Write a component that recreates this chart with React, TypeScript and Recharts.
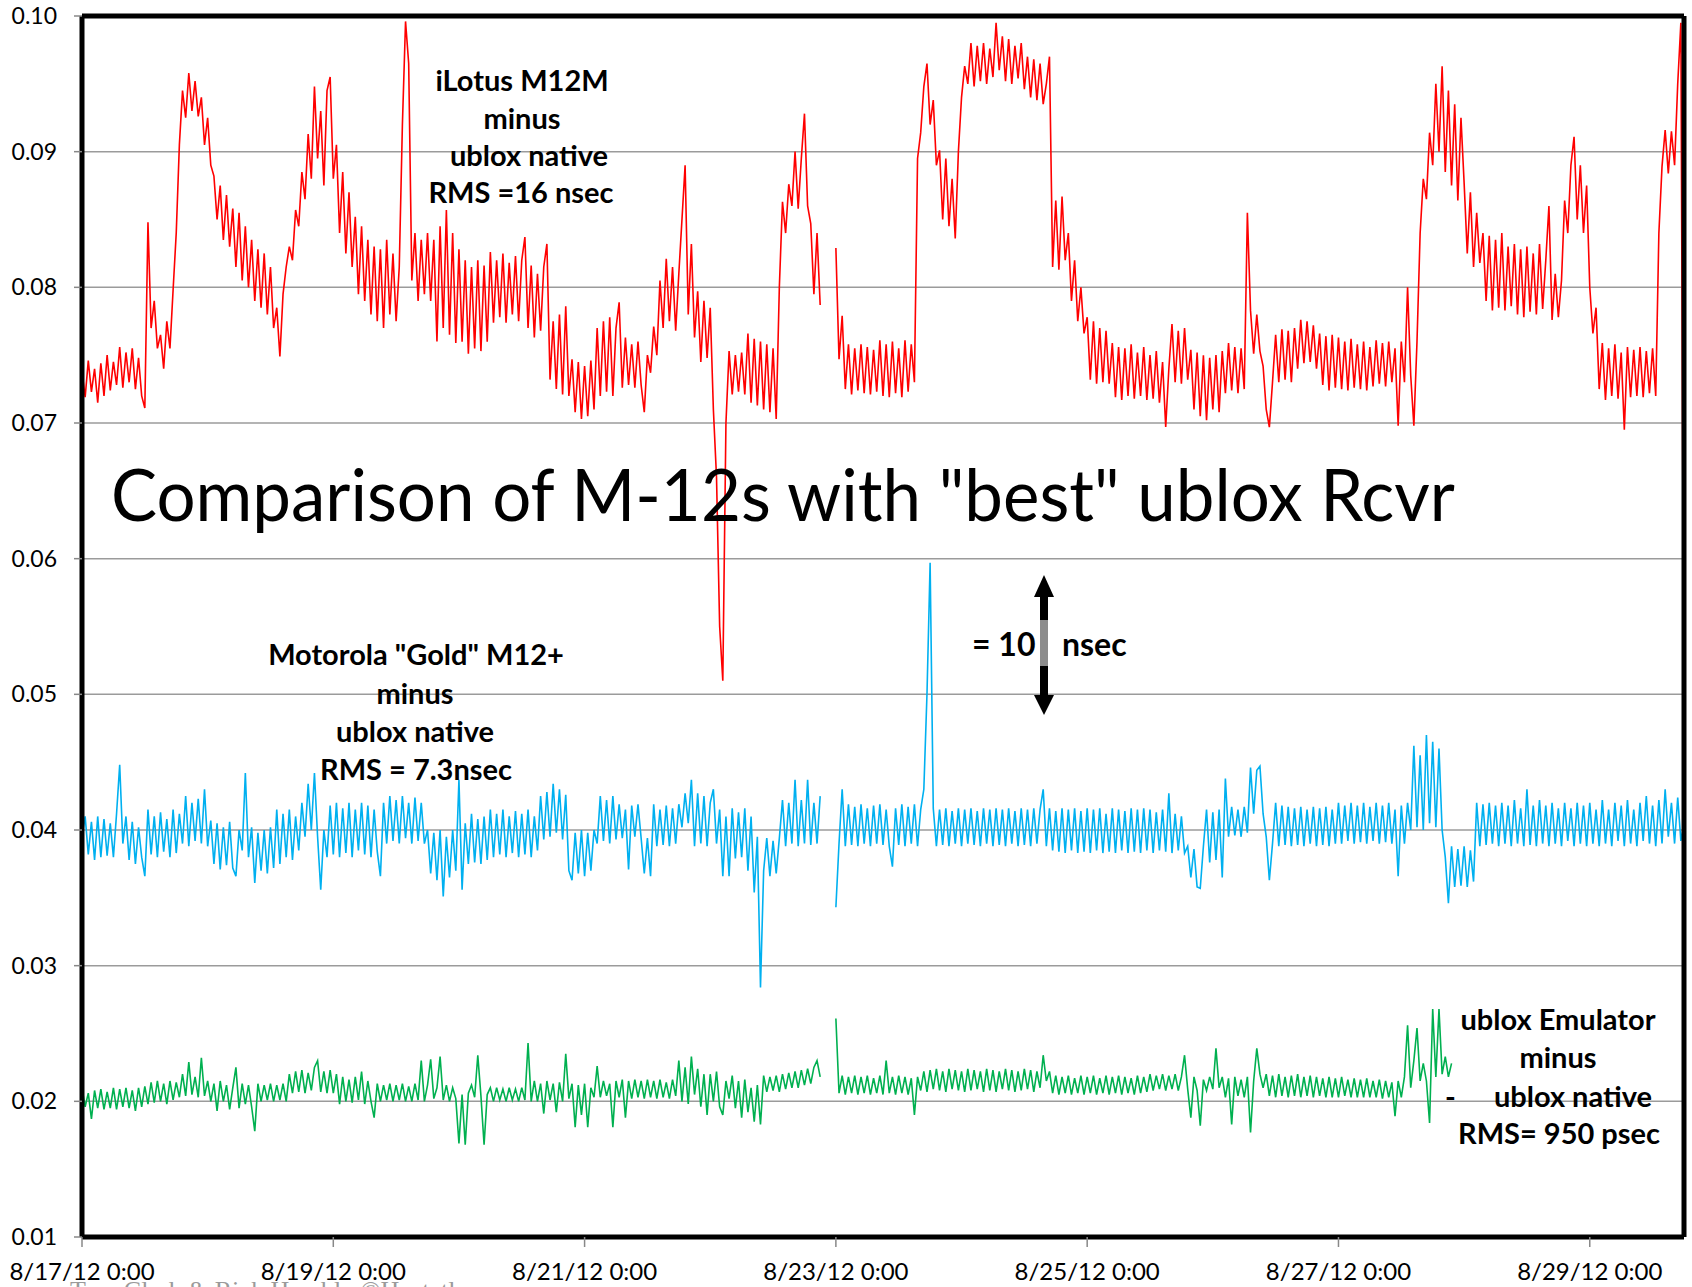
import { LineChart, Line, XAxis, YAxis, CartesianGrid, ReferenceLine } from "recharts";

// samples every 0.025 day starting 8/17/12 0:00, values in nsec (axis is in usec)
const DAY_STEP = 0.025;
const X_MAX_DAY = 12.75;
const X_TICK_DAYS = [0, 2, 4, 6, 8, 10, 12];
const X_TICK_LABELS = [
  "8/17/12 0:00",
  "8/19/12 0:00",
  "8/21/12 0:00",
  "8/23/12 0:00",
  "8/25/12 0:00",
  "8/27/12 0:00",
  "8/29/12 0:00",
];
const Y_TICKS = [0.01, 0.02, 0.03, 0.04, 0.05, 0.06, 0.07, 0.08, 0.09, 0.1];

// iLotus M12M minus ublox native
const RED_NS = [
  73.8, 71.9, 74.6, 72.3, 74.0, 71.5, 74.4, 72.0, 75.0, 72.4,
  74.5, 72.8, 75.6, 72.6, 75.2, 73.0, 75.5, 72.5, 74.8, 72.0,
  71.1, 84.8, 77.0, 79.0, 75.5, 76.5, 74.0, 77.5, 75.5, 79.8,
  84.0, 90.5, 94.5, 92.5, 95.8, 93.0, 95.2, 92.6, 94.0, 90.5,
  92.5, 89.0, 88.2, 85.0, 87.5, 83.5, 86.8, 83.0, 85.8, 81.5,
  85.5, 80.5, 84.5, 80.0, 83.5, 79.0, 82.8, 78.5, 82.5, 78.0,
  81.5, 77.0, 78.5, 74.9, 79.5, 81.5, 83.0, 82.0, 85.7, 84.5,
  88.5, 86.5, 91.3, 88.0, 94.8, 89.5, 93.0, 87.5, 94.5, 95.5,
  88.0, 90.5, 84.0, 88.5, 82.5, 87.0, 81.5, 85.2, 79.5, 84.5,
  79.0, 83.5, 78.0, 83.0, 77.5, 82.8, 77.0, 83.5, 78.0, 82.5,
  77.5, 81.5, 92.0, 99.6, 96.5, 80.5, 84.0, 79.0, 83.5, 79.5,
  84.0, 79.0, 83.5, 76.0, 84.5, 77.0, 85.7, 76.5, 84.0, 75.9,
  82.8, 76.0, 82.0, 75.1, 81.5, 75.5, 82.0, 75.3, 81.6, 76.0,
  82.6, 77.4, 82.0, 77.8, 82.5, 77.4, 81.8, 78.0, 82.3, 77.5,
  82.0, 83.7, 77.0, 81.6, 76.3, 81.0, 76.8, 81.5, 83.2, 73.2,
  77.5, 72.5, 78.0, 72.1, 78.6, 72.0, 74.7, 70.8, 74.5, 70.3,
  74.2, 70.5, 74.6, 71.0, 77.0, 72.0, 77.5, 72.3, 77.8, 72.0,
  77.0, 78.9, 72.6, 76.3, 72.8, 75.8, 72.6, 76.0, 72.8, 70.8,
  75.0, 73.7, 77.1, 75.0, 80.5, 77.0, 82.1, 77.5, 81.5, 76.8,
  81.0, 85.0, 89.0, 78.0, 83.2, 76.3, 79.7, 74.5, 79.0, 74.8,
  78.5, 71.0, 66.0, 55.0, 51.0, 70.0, 75.3, 72.1, 75.0, 72.3,
  75.2, 72.1, 76.6, 71.5, 76.2, 71.3, 76.0, 71.0, 75.8, 70.8,
  75.5, 70.3, 80.0, 86.3, 84.0, 87.6, 86.0, 90.0, 85.8, 89.5,
  92.8, 86.0, 84.7, 79.5, 84.0, 78.7, null, null, null, null,
  82.9, 74.7, 77.9, 72.5, 75.8, 72.1, 75.5, 72.4, 75.8, 72.2,
  75.6, 72.1, 75.4, 72.3, 76.1, 72.0, 75.8, 71.9, 76.0, 72.2,
  75.5, 71.9, 76.1, 72.3, 75.8, 73.0, 89.5, 91.4, 94.8, 96.5,
  92.0, 93.8, 89.0, 90.1, 85.0, 89.5, 84.5, 88.0, 83.6, 90.0,
  94.0, 96.3, 95.0, 98.0, 94.8, 97.8, 95.2, 98.0, 95.0, 97.6,
  95.5, 99.5, 96.0, 98.5, 95.2, 98.3, 95.0, 97.8, 95.4, 98.0,
  94.6, 97.0, 94.0, 96.8, 93.8, 96.5, 93.5, 95.0, 97.0, 81.5,
  86.4, 81.3, 86.7, 82.0, 84.0, 79.0, 82.0, 77.5, 80.0, 76.6,
  77.8, 73.2, 77.5, 72.9, 77.0, 73.0, 76.8, 72.9, 75.9, 71.9,
  75.6, 71.7, 75.5, 72.0, 75.8, 71.8, 75.2, 72.0, 75.6, 71.7,
  75.0, 71.8, 75.3, 71.5, 74.5, 69.7, 74.0, 77.3, 73.0, 76.8,
  72.9, 77.0, 73.2, 75.4, 71.0, 75.2, 70.5, 75.0, 70.2, 74.8,
  71.0, 75.0, 70.8, 75.3, 72.2, 75.9, 72.4, 75.6, 72.2, 75.5,
  72.5, 85.5, 78.3, 75.1, 78.0, 75.3, 74.2, 71.0, 69.7, 73.0,
  76.5, 73.0, 76.9, 73.2, 76.8, 73.0, 77.0, 74.0, 77.6, 74.4,
  77.5, 74.5, 77.2, 74.0, 76.6, 72.8, 76.4, 72.4, 76.5, 72.6,
  76.3, 72.5, 76.0, 72.4, 76.2, 72.6, 75.8, 72.5, 76.0, 72.4,
  75.6, 72.7, 76.1, 72.9, 75.9, 72.7, 76.0, 73.0, 75.5, 69.8,
  76.0, 73.0, 80.0, 73.5, 69.8, 76.0, 84.0, 88.0, 86.5, 91.4,
  89.0, 95.0, 90.0, 96.3, 88.5, 94.5, 87.5, 93.5, 86.4, 92.5,
  87.7, 82.5, 87.0, 81.5, 85.5, 81.8, 84.0, 79.0, 83.8, 78.3,
  83.5, 78.5, 84.0, 78.3, 83.0, 78.6, 83.2, 78.0, 82.8, 77.8,
  83.0, 78.2, 82.5, 78.0, 83.2, 78.4, 82.0, 86.0, 77.6, 81.0,
  77.8, 80.5, 86.4, 84.0, 89.0, 91.1, 85.0, 89.0, 84.0, 87.5,
  80.0, 76.6, 78.5, 72.5, 75.9, 71.7, 75.5, 72.0, 75.8, 71.8,
  75.2, 69.5, 75.6, 71.9, 75.4, 72.0, 75.6, 71.9, 75.3, 72.2,
  75.5, 72.0, 84.0, 88.9, 91.6, 88.4, 91.5, 89.0, 95.0, 99.5,
  44.5,
];

// Motorola "Gold" M12+ minus ublox native
const BLUE_NS = [
  39.5, 41.0, 38.2, 40.6, 37.8, 41.0, 38.0, 40.8, 38.1, 40.5,
  38.0, 41.2, 44.8, 39.0, 41.0, 37.8, 40.6, 37.5, 40.2, 38.0,
  36.6, 41.5, 38.2, 41.0, 38.0, 41.3, 38.4, 40.8, 38.0, 41.5,
  38.3, 41.2, 39.0, 42.5, 38.8, 42.0, 39.2, 42.3, 39.0, 43.0,
  38.8, 40.7, 37.5, 40.5, 37.1, 40.2, 37.4, 40.6, 37.2, 36.6,
  40.0, 38.5, 44.2, 38.0, 40.2, 36.1, 39.8, 37.0, 40.0, 36.8,
  40.2, 37.2, 41.5, 37.5, 41.2, 38.0, 41.5, 37.8, 41.0, 38.5,
  42.0, 39.5, 43.4, 40.0, 44.2, 39.5, 35.6, 40.0, 38.0, 41.8,
  38.2, 42.0, 38.0, 41.6, 38.3, 42.0, 38.0, 41.5, 38.5, 42.0,
  38.2, 41.8, 38.0, 41.5, 38.4, 36.6, 42.0, 39.0, 42.5, 39.2,
  42.2, 39.0, 42.5, 39.4, 42.0, 39.0, 42.4, 39.2, 42.0, 39.0,
  40.0, 36.8, 39.8, 36.3, 40.0, 35.1, 39.5, 36.5, 40.0, 37.0,
  43.7, 35.6, 40.5, 37.5, 41.2, 37.6, 40.8, 37.5, 41.0, 37.8,
  41.5, 38.0, 41.2, 38.2, 41.5, 38.0, 41.0, 38.3, 41.4, 38.0,
  41.2, 38.2, 41.5, 38.0, 41.0, 38.5, 42.5, 39.3, 42.8, 39.5,
  43.4, 39.8, 43.0, 39.3, 42.6, 37.0, 36.3, 39.8, 36.8, 40.0,
  36.6, 39.8, 37.0, 40.0, 39.0, 42.5, 39.2, 42.2, 39.0, 42.5,
  39.3, 41.9, 39.4, 41.5, 37.1, 41.8, 39.5, 41.9, 39.4, 36.8,
  39.4, 36.6, 41.9, 38.8, 41.5, 38.9, 41.8, 38.8, 41.6, 39.0,
  41.9, 40.2, 42.7, 40.5, 43.7, 38.8, 42.7, 39.0, 42.5, 38.8,
  42.0, 43.0, 39.0, 41.5, 36.6, 41.0, 36.6, 41.6, 37.9, 41.3,
  38.0, 41.6, 37.0, 41.0, 35.4, 39.5, 28.4, 37.0, 39.4, 36.6,
  39.2, 36.8, 39.4, 42.2, 38.8, 42.0, 39.0, 43.7, 38.8, 42.2,
  39.0, 43.7, 38.9, 42.0, 39.0, 42.5, null, null, null, null,
  34.3, 39.0, 43.0, 38.8, 41.9, 38.9, 41.7, 38.8, 41.9, 39.0,
  41.6, 38.8, 41.8, 39.0, 41.9, 38.9, 41.5, 38.8, 37.3, 41.6,
  38.9, 41.9, 38.8, 41.7, 39.0, 41.9, 38.8, 41.5, 43.0, 50.0,
  59.7, 41.6, 38.8, 41.5, 38.9, 41.6, 38.8, 41.4, 39.0, 41.6,
  38.8, 41.5, 39.0, 41.6, 38.9, 41.4, 38.8, 41.6, 39.0, 41.5,
  38.8, 41.6, 38.9, 41.5, 38.8, 41.6, 39.0, 41.4, 38.8, 41.6,
  38.9, 41.5, 38.8, 41.6, 39.0, 41.5, 43.0, 38.8, 41.6, 38.5,
  41.4, 38.4, 41.6, 38.3, 41.5, 38.5, 41.6, 38.3, 41.4, 38.4,
  41.6, 38.3, 41.5, 38.5, 41.6, 38.3, 41.2, 38.4, 41.6, 38.3,
  41.5, 38.5, 41.4, 38.3, 41.6, 38.4, 41.5, 38.3, 41.6, 38.5,
  41.5, 38.3, 41.3, 38.5, 41.5, 38.4, 42.7, 38.3, 41.2, 38.5,
  41.0, 38.3, 38.8, 36.5, 38.6, 35.8, 35.7, 38.8, 41.5, 37.6,
  41.3, 37.8, 41.5, 36.5, 43.8, 39.5, 41.7, 39.6, 41.5, 39.5,
  41.7, 39.8, 44.6, 41.2, 44.4, 44.7, 41.2, 39.5, 36.3, 39.0,
  42.0, 38.8, 41.8, 38.9, 41.7, 38.8, 41.6, 38.9, 41.7, 38.8,
  41.5, 39.0, 41.7, 38.8, 41.6, 38.9, 41.7, 38.8, 41.5, 39.0,
  42.0, 39.0, 41.8, 39.2, 42.0, 39.0, 41.8, 39.1, 42.0, 39.0,
  41.7, 39.2, 42.0, 39.0, 41.8, 39.1, 42.0, 39.0, 41.5, 36.6,
  41.8, 39.0, 42.0, 40.0, 46.2, 40.2, 45.5, 40.0, 47.0, 40.5,
  46.5, 40.2, 46.0, 40.0, 38.0, 34.6, 38.8, 35.8, 38.6, 35.9,
  38.8, 35.8, 38.5, 36.2, 42.0, 38.8, 41.9, 38.9, 42.0, 39.0,
  41.8, 38.8, 42.0, 39.0, 41.8, 38.8, 42.2, 39.0, 41.6, 38.8,
  43.0, 38.9, 41.8, 38.8, 42.2, 39.0, 41.8, 38.8, 42.0, 39.0,
  41.6, 38.8, 42.0, 39.2, 41.6, 38.8, 42.0, 39.0, 41.8, 38.8,
  42.0, 39.0, 41.5, 38.8, 42.2, 39.0, 41.5, 38.8, 42.0, 39.2,
  41.8, 38.8, 42.2, 39.0, 41.5, 38.8, 42.0, 39.2, 42.5, 39.0,
  41.8, 38.8, 42.2, 39.0, 43.0, 39.5, 42.0, 39.0, 42.4, 39.2,
  40.5,
];

// ublox Emulator minus ublox native (ends 8/27 ~21:30)
const GREEN_NS = [
  21.0, 19.6, 20.6, 18.7, 20.8, 19.5, 20.9, 19.4, 20.7, 19.5,
  21.0, 19.4, 20.9, 19.6, 21.0, 19.5, 20.8, 19.3, 21.0, 19.6,
  21.1, 19.8, 21.4, 19.9, 21.5, 20.0, 21.3, 19.8, 21.5, 20.1,
  21.4, 20.3, 22.0, 20.4, 22.9, 20.5, 21.8, 20.3, 23.2, 20.4,
  21.5, 20.0, 21.3, 19.3, 21.5, 20.0, 21.2, 19.4, 21.0, 22.5,
  19.5, 21.3, 19.8, 21.2, 19.6, 17.8, 21.3, 20.0, 21.2, 20.1,
  21.3, 20.0, 21.2, 20.1, 21.3, 20.0, 22.0, 20.6, 22.2, 20.7,
  22.3, 20.6, 22.1, 20.8, 22.5, 23.0, 20.7, 22.2, 20.6, 22.3,
  20.6, 22.0, 19.8, 21.8, 20.0, 21.6, 19.9, 21.8, 20.1, 22.2,
  19.8, 21.5, 20.0, 18.8, 21.3, 20.0, 21.2, 20.1, 21.3, 20.0,
  21.2, 20.1, 21.3, 20.0, 21.1, 20.0, 21.3, 20.1, 23.0, 20.0,
  21.2, 23.1, 20.2, 21.0, 23.3, 20.1, 21.2, 20.0, 21.0, 20.2,
  16.9, 20.5, 16.8, 20.6, 21.2, 20.3, 23.4, 20.4, 16.8, 20.5,
  21.0, 20.0, 21.0, 20.1, 20.9, 20.0, 21.0, 20.1, 20.9, 20.0,
  21.0, 20.1, 24.3, 20.0, 21.5, 20.0, 21.3, 19.1, 21.5, 20.1,
  21.3, 19.2, 21.4, 20.0, 23.5, 20.2, 21.3, 18.1, 21.2, 19.0,
  21.3, 18.1, 21.0, 20.3, 22.6, 20.3, 21.5, 20.4, 21.3, 18.1,
  21.5, 20.3, 21.6, 18.8, 21.5, 20.2, 21.6, 20.3, 21.5, 20.2,
  21.6, 20.3, 21.5, 20.2, 21.6, 20.3, 21.4, 20.2, 21.6, 20.4,
  23.0, 20.0, 22.5, 19.8, 23.3, 20.5, 22.4, 19.6, 22.0, 19.0,
  22.0, 20.0, 22.2, 19.6, 19.0, 21.5, 20.2, 21.9, 19.5, 21.5,
  18.8, 21.6, 19.2, 21.0, 18.5, 21.2, 18.3, 21.9, 20.7, 21.8,
  20.8, 21.9, 20.7, 22.0, 20.9, 22.1, 21.0, 22.2, 21.0, 22.3,
  21.2, 22.4, 21.3, 22.5, 23.0, 21.8, null, null, null, null,
  26.1, 20.6, 21.9, 20.5, 21.8, 20.6, 21.9, 20.5, 21.8, 20.6,
  21.9, 20.5, 21.7, 20.6, 21.9, 20.5, 23.0, 20.6, 21.8, 20.5,
  21.9, 20.6, 21.8, 20.5, 21.7, 19.0, 21.8, 20.8, 22.2, 20.7,
  22.3, 20.9, 22.4, 20.8, 22.2, 20.7, 22.4, 20.9, 22.3, 20.8,
  22.2, 20.7, 22.4, 20.8, 22.3, 20.9, 22.2, 20.7, 22.4, 20.8,
  22.3, 20.7, 22.2, 20.9, 22.4, 20.8, 22.3, 20.7, 22.2, 20.8,
  22.4, 20.9, 22.3, 20.7, 22.2, 21.0, 23.4, 21.5, 22.2, 20.6,
  21.9, 20.5, 21.8, 20.6, 21.9, 20.5, 21.7, 20.6, 21.9, 20.5,
  21.8, 20.6, 21.9, 20.5, 21.7, 20.6, 21.9, 20.5, 21.8, 20.6,
  21.9, 20.5, 21.8, 20.6, 21.7, 20.5, 21.9, 20.6, 21.8, 20.7,
  22.0, 20.8, 21.9, 20.9, 22.0, 20.8, 21.9, 20.9, 22.0, 20.8,
  21.8, 23.4, 20.9, 18.8, 21.8, 20.8, 18.2, 21.6, 20.8, 21.8,
  20.9, 23.9, 21.0, 21.8, 20.3, 21.7, 18.3, 21.8, 20.4, 21.6,
  20.3, 21.8, 17.7, 21.5, 23.9, 22.0, 21.0, 22.0, 20.4, 21.9,
  20.3, 22.0, 20.4, 21.8, 20.3, 21.9, 20.4, 22.0, 20.3, 21.8,
  20.4, 21.9, 20.3, 21.8, 20.4, 21.7, 20.3, 21.8, 20.3, 21.7,
  20.3, 21.8, 20.4, 21.6, 20.3, 21.7, 20.3, 21.6, 20.3, 21.7,
  20.3, 21.5, 20.3, 21.6, 20.2, 21.5, 20.3, 21.4, 18.9, 21.5,
  20.3, 21.8, 25.6, 21.0, 23.0, 25.4, 21.5, 22.8, 21.5, 18.4,
  26.8, 21.8, 26.8, 22.0, 23.3, 21.8, 22.8,
];

const FONT = "Lato, 'Open Sans', sans-serif";
const W = 1692;
const H = 1287;

const toUs = (v: number | null | undefined) => (v == null ? null : v / 1000);

const rows = RED_NS.map((r, i) => ({
  day: Math.round(i * DAY_STEP * 1000) / 1000,
  red: toUs(r),
  blue: toUs(BLUE_NS[i]),
  green: toUs(GREEN_NS[i]),
}));

const labelStyle = { fontFamily: FONT, fontWeight: 700, fontSize: 29, fill: "#000" };

function Annotations() {
  return (
    <svg width={W} height={H} style={{ position: "absolute", left: 0, top: 0, pointerEvents: "none" }}>
      <g style={labelStyle} textAnchor="middle">
        <text x={522} y={91}>iLotus M12M</text>
        <text x={522} y={129}>minus</text>
        <text x={529} y={166}>ublox native</text>
        <text x={521} y={203}>RMS =16 nsec</text>

        <text x={416} y={665}>Motorola "Gold" M12+</text>
        <text x={415} y={704}>minus</text>
        <text x={415} y={742}>ublox native</text>
        <text x={416} y={780}>RMS = 7.3nsec</text>

        <text x={1558} y={1030}>ublox Emulator</text>
        <text x={1558} y={1068}>minus</text>
        <text x={1445} y={1107} textAnchor="start">-</text>
        <text x={1652} y={1107} textAnchor="end">ublox native</text>
        <text x={1559} y={1144}>RMS= 950 psec</text>
      </g>

      <text
        x={111}
        y={521}
        textLength={1344}
        lengthAdjust="spacingAndGlyphs"
        style={{ fontFamily: FONT, fontSize: 71, fill: "#000" }}
      >
        Comparison of M-12s with "best" ublox Rcvr
      </text>

      <g style={{ fontFamily: FONT, fontWeight: 700, fontSize: 32, fill: "#000" }}>
        <text x={972} y={656}>= 10</text>
        <text x={1062} y={656}>nsec</text>
      </g>

      {/* 10 nsec scale arrow */}
      <polygon points="1044,575 1034,597 1054,597" fill="#000" />
      <rect x={1040} y={596} width={8} height={24} fill="#000" />
      <rect x={1040} y={620} width={8} height={46} fill="#8c8c8c" />
      <rect x={1040} y={666} width={8} height={30} fill="#000" />
      <polygon points="1034,695 1054,695 1044,715" fill="#000" />

      <text x={70} y={1299} style={{ fontFamily: "'Liberation Serif', serif", fontSize: 26, fill: "#9a9a9a" }}>
        Tom Clark &amp; Rick Hambly ©Hostetl
      </text>
    </svg>
  );
}

export default function App() {
  return (
    <div style={{ position: "absolute", left: 0, top: 0, width: W, height: H, overflow: "hidden", background: "#fff" }}>
      <LineChart width={W} height={H} data={rows} margin={{ top: 16, right: 8, bottom: 0, left: 0 }}>
        <CartesianGrid vertical={false} stroke="#9b9b9b" strokeWidth={1.5} />
        <XAxis
          type="number"
          dataKey="day"
          domain={[0, X_MAX_DAY]}
          ticks={X_TICK_DAYS}
          interval={0}
          allowDataOverflow
          tickFormatter={(d: number) => X_TICK_LABELS[X_TICK_DAYS.indexOf(d)]}
          height={50}
          tickSize={10}
          tickMargin={16}
          axisLine={{ stroke: "#000", strokeWidth: 5 }}
          tickLine={{ stroke: "#888", strokeWidth: 1.5 }}
          tick={{ fontSize: 24, fill: "#000", fontFamily: FONT }}
        />
        <YAxis
          type="number"
          domain={[0.01, 0.1]}
          ticks={Y_TICKS}
          interval={0}
          allowDataOverflow
          tickFormatter={(v: number) => v.toFixed(2)}
          width={82}
          tickSize={8}
          tickMargin={17}
          axisLine={{ stroke: "#000", strokeWidth: 5 }}
          tickLine={{ stroke: "#888", strokeWidth: 1.5 }}
          tick={{ fontSize: 23, fill: "#000", fontFamily: FONT }}
        />
        <Line type="linear" dataKey="green" stroke="#00b050" strokeWidth={1.6} dot={false} isAnimationActive={false} />
        <Line type="linear" dataKey="blue" stroke="#00b0f0" strokeWidth={1.6} dot={false} isAnimationActive={false} />
        <Line type="linear" dataKey="red" stroke="#ff0000" strokeWidth={1.6} dot={false} isAnimationActive={false} />
        <ReferenceLine y={0.1} stroke="#000" strokeWidth={5} />
        <ReferenceLine x={X_MAX_DAY} stroke="#000" strokeWidth={5} />
      </LineChart>
      <Annotations />
    </div>
  );
}
